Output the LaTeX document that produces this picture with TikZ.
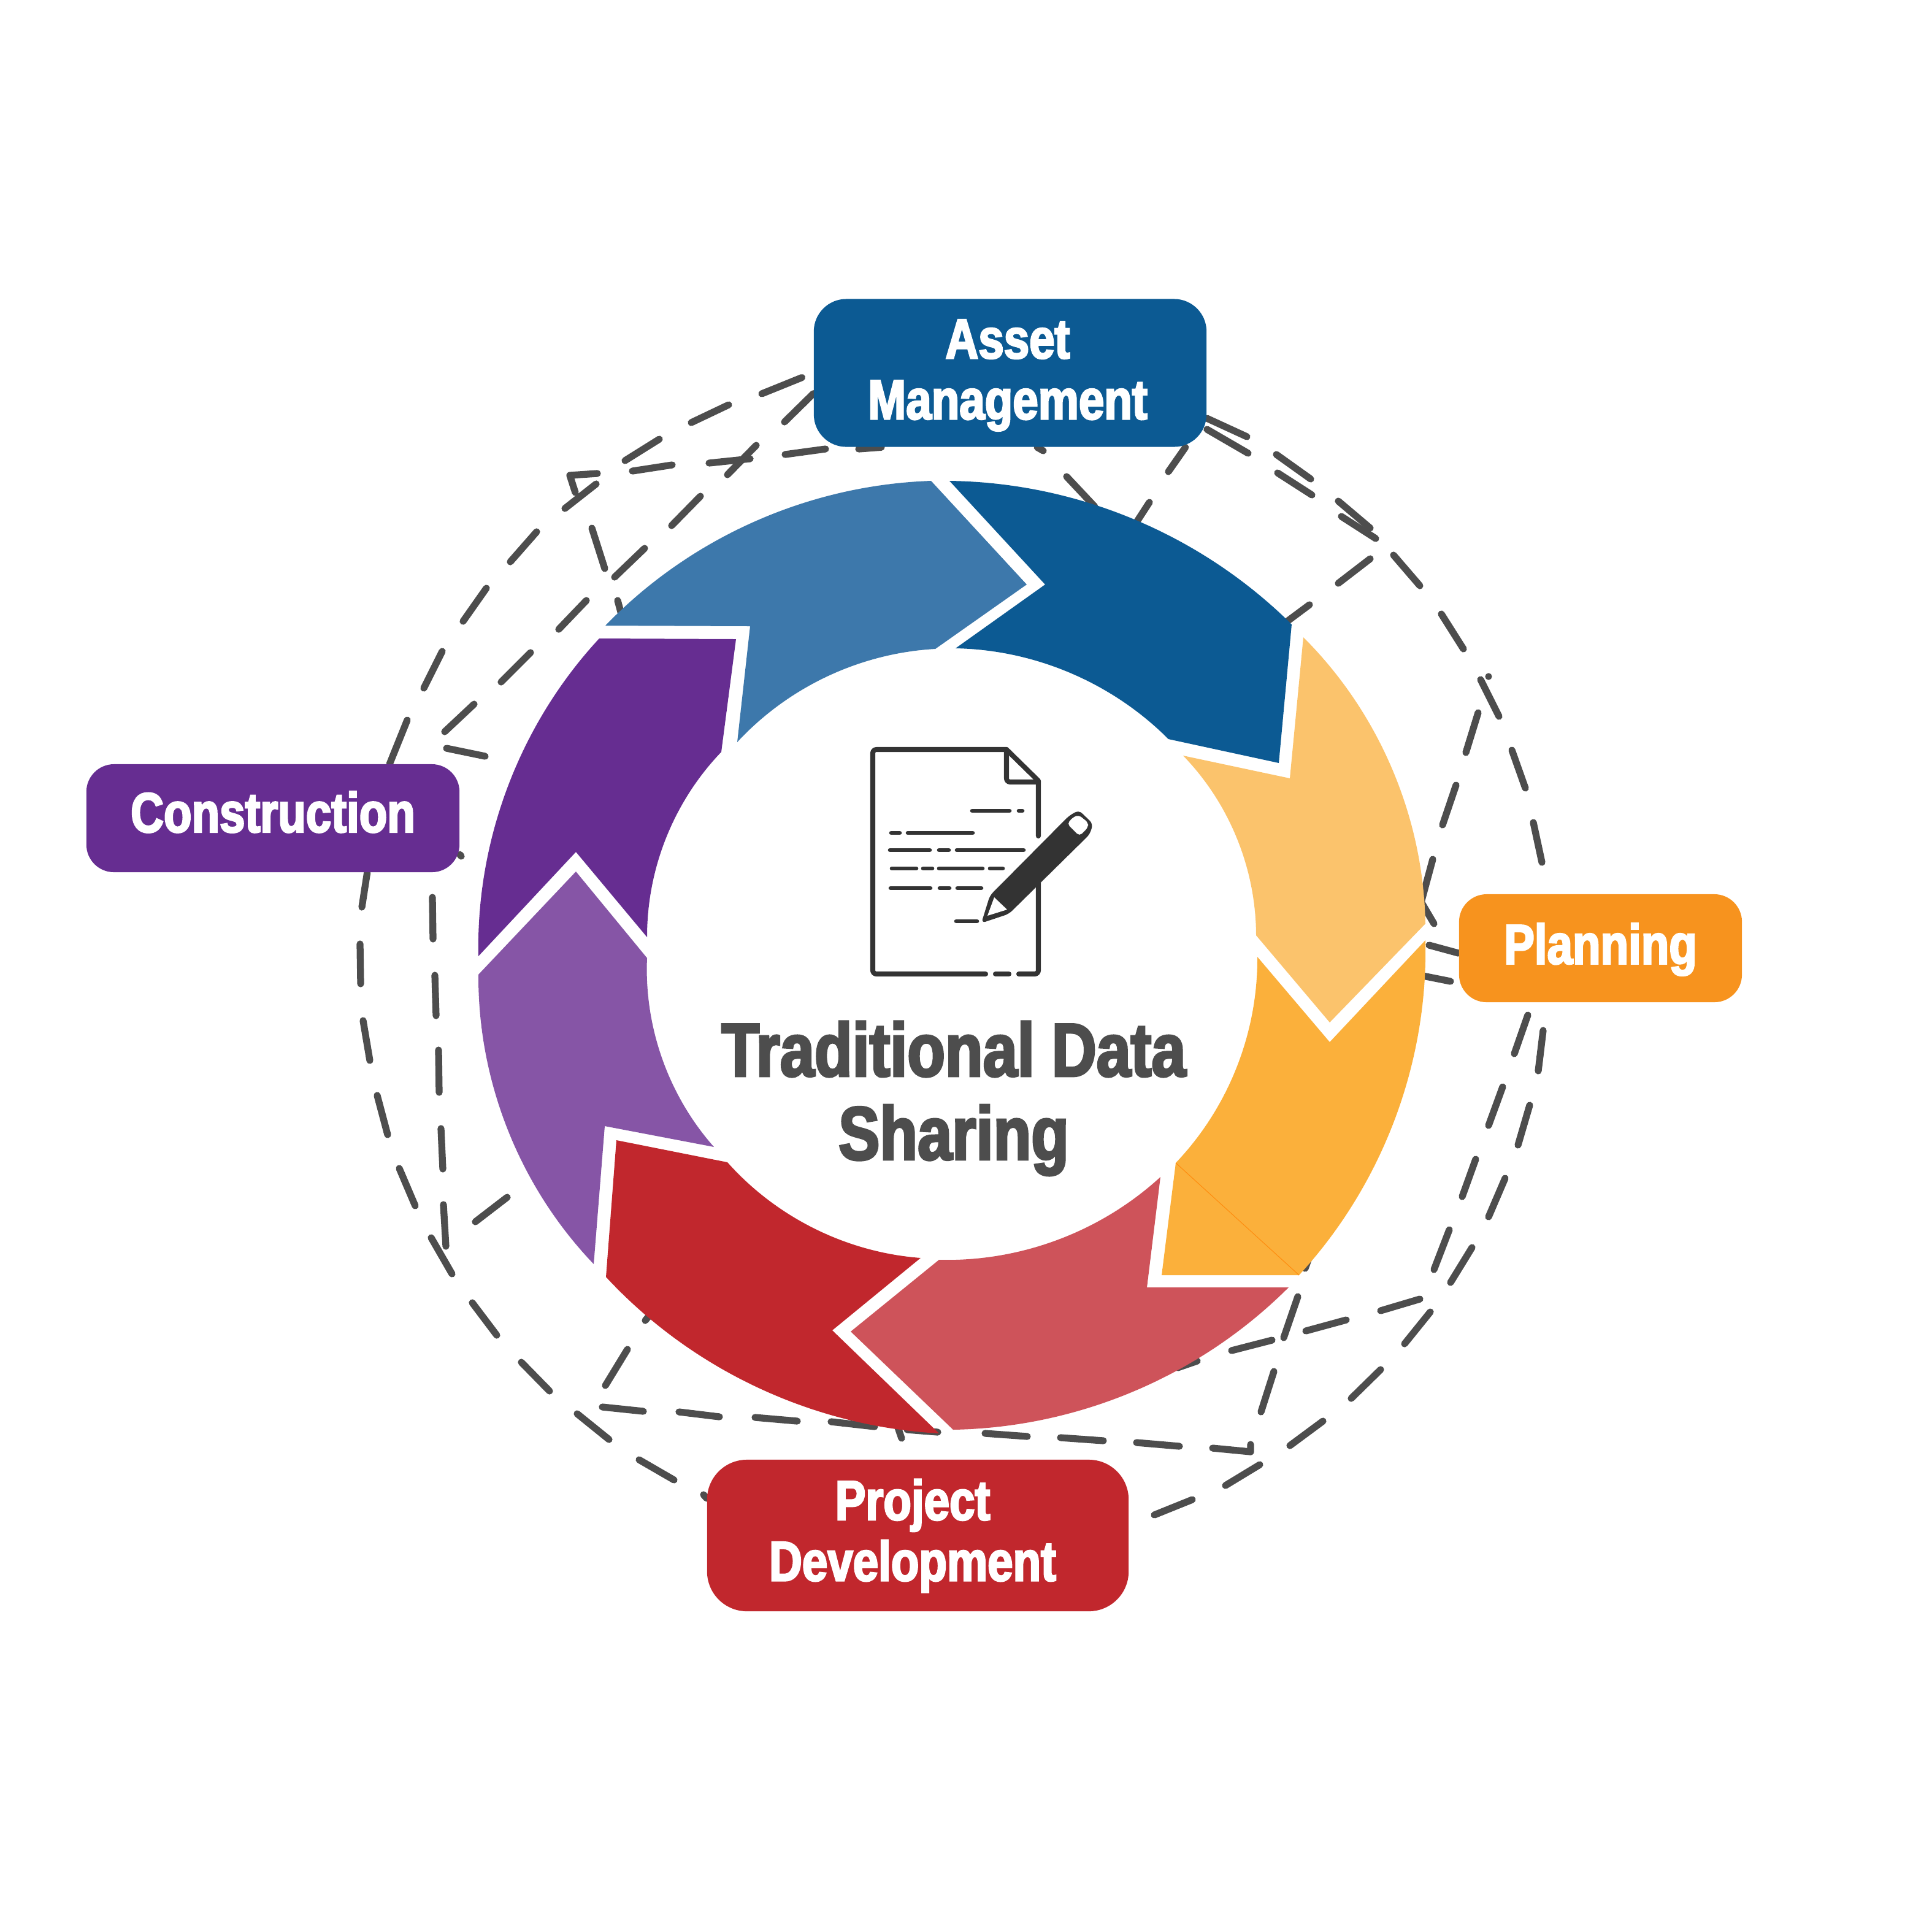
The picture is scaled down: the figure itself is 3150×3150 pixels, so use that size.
\documentclass[tikz,border=0pt]{standalone}
\usepackage{fontspec}
\usetikzlibrary{backgrounds}
\newfontfamily\impactf[UprightFont={* Bold},FakeStretch=0.815,FakeBold=3]{Liberation Sans}
\newfontfamily\impactt[UprightFont={* Bold},FakeStretch=0.82,FakeBold=3]{Liberation Sans}
\definecolor{dashgray}{HTML}{4D4D4D}
\definecolor{icongray}{HTML}{333333}
\definecolor{bluedark}{HTML}{0C5A93}
\definecolor{bluelight}{HTML}{3D78AB}
\definecolor{purpledark}{HTML}{662D91}
\definecolor{purplelight}{HTML}{8655A6}
\definecolor{reddark}{HTML}{C1272D}
\definecolor{redlight}{HTML}{CE535A}
\definecolor{orangedark}{HTML}{FBB03B}
\definecolor{orangelight}{HTML}{FBC36C}
\definecolor{orangebox}{HTML}{F7931E}
\tikzset{
  ringcw/.style={bend left=22,looseness=.88},
  ringccw/.style={bend right=22,looseness=.88},
  labelbox/.style={rounded corners=#1,inner sep=0pt},
  labeltext/.style={text=white,align=center,inner sep=0pt,
    font=\impactf\fontsize{26}{28.2}\selectfont},
  dashlink/.style={draw=dashgray,line width=3.2pt,line cap=round,line join=round},
  iconline/.style={draw=icongray,line width=2.3pt,line cap=round,line join=round},
}
\begin{document}
\begin{tikzpicture}[x=0.01cm,y=-0.01cm]
\useasboundingbox (0,0) rectangle (3150,3150);
% ring
\fill[bluedark] (1548,784) to[ringcw] (2106,1018) -- (2085,1244) -- (1905,1205) to[ringccw] (1558,1057) -- (1704,953) -- cycle;
\fill[bluelight] (987,1020) to[ringcw] (1518,784) -- (1674,953) -- (1525,1058) to[ringccw] (1202,1210) -- (1223,1021) -- cycle;
\fill[purpledark] (780,1559) to[ringcw] (977,1041) -- (1200,1042) -- (1176,1226) to[ringccw] (1055,1528) -- (939,1389) -- cycle;
\fill[purplelight] (968,2061) to[ringcw] (780,1589) -- (939,1421) -- (1055,1562) to[ringccw] (1164,1870) -- (986,1836) -- cycle;
\fill[reddark] (1531,2337) to[ringcw] (988,2082) -- (1005,1859) -- (1186,1895) to[ringccw] (1501,2051) -- (1357,2169) -- cycle;
\fill[redlight] (2101,2099) to[ringcw] (1554,2331) -- (1387,2171) -- (1531,2054) to[ringccw] (1892,1919) -- (1870,2099) -- cycle;
\fill[orangedark] (2324,1533) to[ringcw] (2118,2079) -- (1894,2079) -- (1917,1896) to[ringccw] (2050,1560) -- (2168,1699) -- cycle;
\draw[orange!75!orangedark,line width=0.3pt] (1917,1896) -- (2118,2079);
\fill[orangelight] (2125,1039) to[ringcw] (2324,1506) -- (2168,1667) -- (2048,1525) to[ringccw] (1929,1232) -- (2103,1269) -- cycle;
% boxes
\node[labelbox=0.53cm,fill=bluedark,minimum width=6.40cm,minimum height=2.41cm] (asset) at (1647,608) {};
\node[labelbox=0.45cm,fill=purpledark,minimum width=6.08cm,minimum height=1.76cm] (constr) at (445,1334) {};
\node[labelbox=0.45cm,fill=orangebox,minimum width=4.61cm,minimum height=1.76cm] (planning) at (2609.5,1546) {};
\node[labelbox=0.65cm,fill=reddark,minimum width=6.87cm,minimum height=2.47cm] (project) at (1496.5,2503.5) {};
\node[labeltext] (assetlabel) at (1643,612) {Asset\\Management};
\node[labeltext] (constrlabel) at (445,1324) {Construction};
\node[labeltext] (planninglabel) at (2609.5,1548) {Planning};
\node[labeltext] (projectlabel) at (1488,2504) {Project\\Development};
% title
\node[text=dashgray,align=center,inner sep=0pt,font=\impactt\fontsize{35}{38.7}\selectfont] (title) at (1555,1791) {Traditional Data\\Sharing};
% icon
\draw[iconline] (1641,1222) -- (1433,1222) [rounded corners=1.7pt] -- (1423,1222) -- (1423,1588) -- (1607,1588);
\draw[iconline] (1623,1588) -- (1645,1588);
\draw[iconline] (1661,1588) [rounded corners=1.7pt] -- (1693,1588) -- (1693,1440);
\draw[iconline] (1693,1363) -- (1693,1273) -- (1641,1222);
\draw[iconline] [rounded corners=1.7pt] (1641,1222) -- (1641,1275) -- (1693,1275);
\draw[iconline,line width=1.9pt]
  (1585,1322) -- (1646,1322) (1661,1322) -- (1667,1322)
  (1453,1358) -- (1467,1358) (1480,1358) -- (1586,1358)
  (1451,1386) -- (1516,1386) (1531,1386) -- (1547,1386) (1560,1386) -- (1669,1386)
  (1454,1416) -- (1494,1416) (1505,1416) -- (1520,1416) (1531,1416) -- (1602,1416) (1614,1416) -- (1635,1416)
  (1452,1448) -- (1517,1448) (1532,1448) -- (1548,1448) (1561,1448) -- (1600,1448)
  (1559,1502) -- (1593,1502);
\fill[icongray,rounded corners=2pt] (1600,1505) -- (1614,1460) -- (1743,1330) -- (1759,1321) -- (1782,1343) -- (1777,1360) -- (1645,1490) -- cycle;
\fill[white] (1621,1463) -- (1642,1483) -- (1610,1493) -- cycle;
\fill[white,rounded corners=1.5pt] (1740,1343) -- (1760,1363) -- (1774,1349) -- (1774,1341) -- (1759,1329) -- (1750,1332) -- cycle;
% dashed connectors
\begin{pgfonlayer}{background}
% Asset to Construction, outer
\draw[dashlink,shorten <=5.7pt] (asset.west) -- (1242,642);
\draw[dashlink] (1188,660) -- (1127,689) (1075,716) -- (1019,751) (972,789) -- (921,829)
  (875,867) -- (832,916) (793,959) -- (755,1013) (721,1062) -- (691,1122) (664,1174) -- (constr.25);
% Construction to Project, outer
\draw[dashlink] (constr.-30) -- (590,1479) (587,1539) -- (588,1604) (592,1664) -- (603,1729) (615,1786) -- (632,1850)
  (651,1905) -- (677,1966) (703,2018) -- (737,2077) (770,2124) -- (810,2177) (850,2221) -- (896,2268)
  (941,2305) -- (993,2347) (1042,2380) -- (1099,2413) (1147,2437) -- (project.170);
% Asset to Construction, inner
\draw[dashlink] (asset.186) -- (1279,688) (1233,726) -- (1186,774) (1142,809) -- (1095,857) (1051,894) -- (1002,941)
  (956,979) -- (911,1026) (865,1064) -- (817,1112) (773,1148) -- (725,1193);
\draw[dashlink] (728,1220) -- (791,1233);
% Asset to ring, left dog-leg
\draw[dashlink] (asset.210) -- (1400,732) (1346,732) -- (1280,741) (1223,748) -- (1156,755) (1096,758) -- (1031,768)
  (974,772) -- (929,775) -- (938,803) (965,861) -- (986,927) (1007,979) -- (1014,1005);
% Asset to ring, short
\draw[dashlink] (asset.-23.5) -- (1905,769) (1874,819) -- (1850,856);
\draw[dashlink] (asset.-70) -- (1701,735) (1739,777) -- (1785,826);
% Asset to Planning, outer
\draw[dashlink] (asset.-13) -- (2033,712) (2081,741) -- (2137,781) (2182,817) -- (2234,861) (2272,905) -- (2315,955)
  (2350,1001) -- (2386,1058) (2414,1108) -- (2444,1168) (2465,1223) -- (2487,1285) (2500,1341) -- (2514,1406);
% Asset to ring, right dog-leg
\draw[dashlink] (asset.-16) -- (2035,739) (2083,771) -- (2139,807) (2187,842) -- (2243,878)
  (2234,911) -- (2182,951) (2135,986) -- (2092,1018);
% Ring to upper right
\draw[dashlink] (2427,1103) -- (2427,1103) (2410,1162) -- (2390,1227) (2374,1280) -- (2352,1345) (2336,1401) -- (2316,1475);
\draw[dashlink] (2318,1472) -- (2338,1506);
% Planning stubs
\draw[dashlink] (planning.182) -- (2330,1541);
\draw[dashlink] (2310,1589) -- (2365,1600);
% Planning to Project, outer
\draw[dashlink] (2516,1680) -- (2508,1746) (2494,1802) -- (2475,1867) (2454,1921) -- (2427,1984) (2400,2034) -- (2365,2091)
  (2332,2139) -- (2290,2191) (2251,2233) -- (2203,2280) (2157,2317) -- (2103,2357) (2054,2388) -- (1998,2422) (1944,2445) -- (1882,2470);
% Planning to ring, dog-leg
\draw[dashlink] (2491,1655) -- (2469,1718) (2450,1772) -- (2427,1835) (2406,1890) -- (2384,1951) (2363,2005) -- (2338,2070)
  (2315,2118) -- (2251,2137) (2195,2152) -- (2129,2170) (2074,2185) -- (2008,2202) (1952,2219) -- (1920,2230);
% Lower line with dog-leg
\draw[dashlink] (982,2294) -- (1049,2301) (1107,2302) -- (1173,2310) (1231,2311) -- (1300,2317) (1355,2318) -- (1426,2326)
  (1479,2331) -- (1529,2335) (1606,2337) -- (1675,2342) (1729,2344) -- (1799,2349) (1853,2352) -- (1923,2358)
  (1977,2361) -- (2039,2367) -- (2039,2355) (2056,2302) -- (2077,2236) (2093,2181) -- (2116,2114)
  (2138,2040) -- (2128,2068);
% Lower left short pieces
\draw[dashlink] (987,2259) -- (1023,2200) (1052,2153) -- (1066,2136);
\draw[dashlink] (1470,2345) -- (1458,2310);
\draw[dashlink] (775,1992) -- (827,1952);
% Construction downward
\draw[dashlink] (constr.-11) -- (752,1396);
\draw[dashlink] (705,1463) -- (706,1531) (709,1590) -- (711,1656) (715,1712) -- (716,1781) (719,1840) -- (722,1906) (723,1964) -- (727,2032);
\end{pgfonlayer}
\end{tikzpicture}
\end{document}
